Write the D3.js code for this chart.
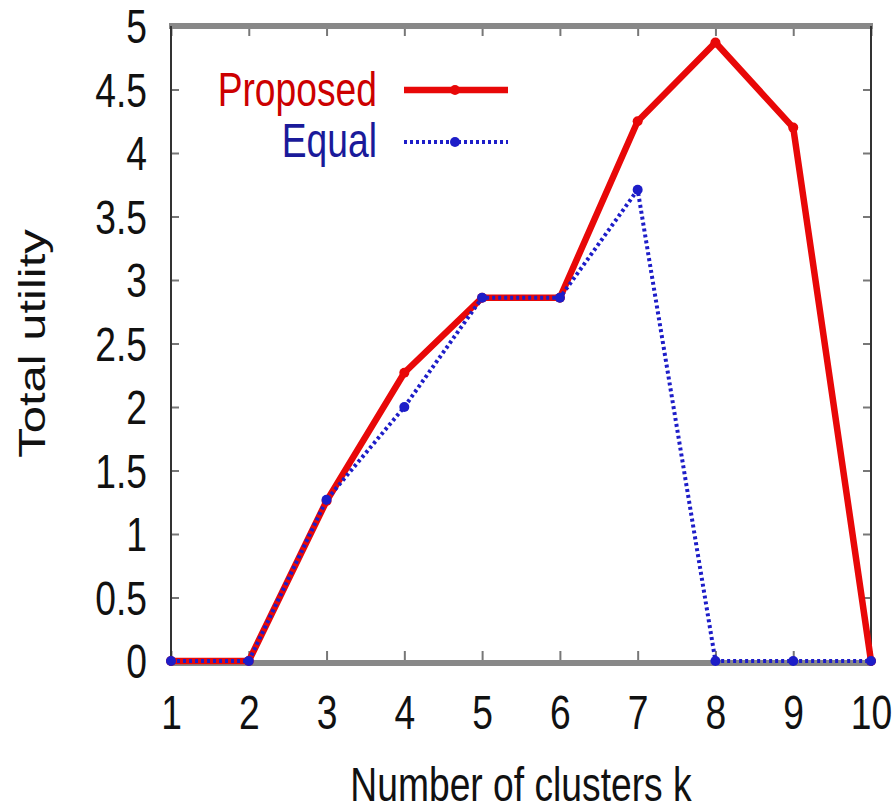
<!DOCTYPE html>
<html>
<head>
<meta charset="utf-8">
<script src="https://cdn.jsdelivr.net/npm/d3@7"></script>
<style>
html,body{margin:0;padding:0;background:#fff;}
text{font-family:"Liberation Sans",Arial,Helvetica,sans-serif;}
</style>
</head>
<body>
<svg id="chart" width="894" height="812"></svg>
<script>
const clusters = [1,2,3,4,5,6,7,8,9,10];
const proposed = [0,0,1.26,2.27,2.86,2.86,4.25,4.87,4.2,0];
const equal    = [0,0,1.27,2.0,2.86,2.86,3.71,0,0,0];
const yTicks = [0,0.5,1,1.5,2,2.5,3,3.5,4,4.5,5];
const xTicks = [1,2,3,4,5,6,7,8,9,10];
const seriesNames = ["Proposed","Equal"];
const xLabel = "Number of clusters k";
const yLabel = "Total utility";

const SX = 0.76;      // horizontal glyph compression seen in reference
const FS = 49;

const svg = d3.select("#chart");
const L = 171, R = 871, T = 26, B = 661;
const x = d3.scaleLinear().domain([1,10]).range([L,R]);
const y = d3.scaleLinear().domain([0,5]).range([B,T]);

// ticks (inward)
const tickColor = "#777";
const gL = svg.append("g").attr("transform",`translate(${L},0)`)
  .call(d3.axisLeft(y).tickValues(yTicks).tickSize(-8).tickFormat(d=>String(d)));
const gR = svg.append("g").attr("transform",`translate(${R},0)`)
  .call(d3.axisRight(y).tickValues(yTicks).tickSize(-8).tickFormat(""));
const gB = svg.append("g").attr("transform",`translate(0,${B})`)
  .call(d3.axisBottom(x).tickValues(xTicks).tickSize(-10).tickFormat(d=>String(d)));
const gT = svg.append("g").attr("transform",`translate(0,${T})`)
  .call(d3.axisTop(x).tickValues(xTicks).tickSize(-10).tickFormat(""));
[gL,gR,gB,gT].forEach(g=>{
  g.select(".domain").remove();
  g.selectAll(".tick line").attr("stroke",tickColor).attr("stroke-width",2);
});
gL.selectAll(".tick text")
  .attr("x",null).attr("dy",null)
  .attr("transform",`translate(-24,0) scale(${SX},1)`)
  .attr("dominant-baseline","central")
  .attr("text-anchor","end")
  .attr("font-size",FS).attr("fill","#111")
  .style("font-family",'"Liberation Sans",Arial,sans-serif');
gB.selectAll(".tick text")
  .attr("y",null).attr("dy",null)
  .attr("transform",`translate(0,68) scale(${SX},1)`)
  .attr("text-anchor","middle")
  .attr("font-size",FS).attr("fill","#111")
  .style("font-family",'"Liberation Sans",Arial,sans-serif');

// frame
svg.append("line").attr("x1",L-2).attr("x2",R+2).attr("y1",T).attr("y2",T)
  .attr("stroke","#888").attr("stroke-width",6);
svg.append("line").attr("x1",L-2).attr("x2",R+2).attr("y1",B+2).attr("y2",B+2)
  .attr("stroke","#888").attr("stroke-width",6);
svg.append("line").attr("x1",L).attr("x2",L).attr("y1",T).attr("y2",B+4)
  .attr("stroke","#333").attr("stroke-width",2);
svg.append("line").attr("x1",R).attr("x2",R).attr("y1",T).attr("y2",B+4)
  .attr("stroke","#333").attr("stroke-width",2);

// series
const line = d3.line().x((d,i)=>x(clusters[i])).y(d=>y(d));
const red = "#e80808", blue = "#1d1dc8";
svg.append("path").datum(proposed).attr("d",line)
  .attr("fill","none").attr("stroke",red).attr("stroke-width",6.5).attr("stroke-linejoin","miter");
svg.selectAll(".pm").data(proposed).enter().append("circle")
  .attr("cx",(d,i)=>x(clusters[i])).attr("cy",d=>y(d)).attr("r",5).attr("fill",red);
svg.append("path").datum(equal).attr("d",line)
  .attr("fill","none").attr("stroke",blue).attr("stroke-width",4).attr("stroke-dasharray","3,3");
svg.selectAll(".em").data(equal).enter().append("circle")
  .attr("cx",(d,i)=>x(clusters[i])).attr("cy",d=>y(d)).attr("r",5).attr("fill",blue);

// legend
const leg = [
  {name:seriesNames[0], color:red, tcol:"#cc0000", ly:90, ty:106, w:6.5, dash:null},
  {name:seriesNames[1], color:blue, tcol:"#1a1a9a", ly:142, ty:157, w:4, dash:"3,3"}
];
leg.forEach(l=>{
  svg.append("text").text(l.name)
    .attr("transform",`translate(377,${l.ty}) scale(${SX},1)`)
    .attr("text-anchor","end").attr("font-size",FS).attr("fill",l.tcol);
  const ln = svg.append("line").attr("x1",404).attr("x2",508).attr("y1",l.ly).attr("y2",l.ly)
    .attr("stroke",l.color).attr("stroke-width",l.w);
  if (l.dash) ln.attr("stroke-dasharray",l.dash);
  svg.append("circle").attr("cx",455).attr("cy",l.ly).attr("r",5).attr("fill",l.color);
});

// axis labels
svg.append("text").text(xLabel)
  .attr("transform",`translate(${(L+R)/2},801) scale(${SX},1)`)
  .attr("text-anchor","middle").attr("font-size",FS).attr("fill","#111");
svg.append("text").text(yLabel)
  .attr("transform",`translate(45,${(T+B)/2}) scale(${SX},1) rotate(-90)`)
  .attr("text-anchor","middle").attr("font-size",FS).attr("fill","#111");
</script>
</body>
</html>
